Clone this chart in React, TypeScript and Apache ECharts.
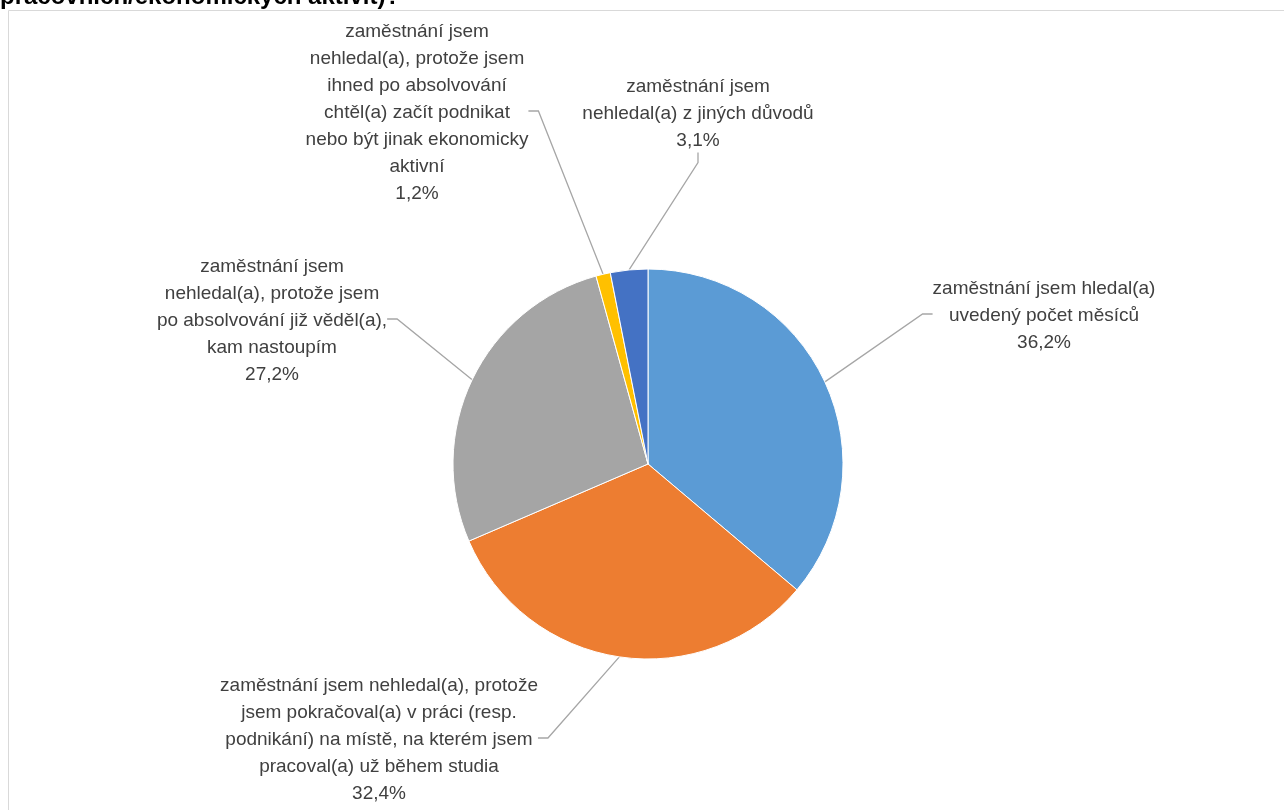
import React, { useEffect, useRef } from 'react';
import * as echarts from 'echarts';

const TITLE = 'pracovních/ekonomických aktivit)?';

const CATEGORIES = [
  'zaměstnání jsem hledal(a)\nuvedený počet měsíců',
  'zaměstnání jsem nehledal(a), protože\njsem pokračoval(a) v práci (resp.\npodnikání) na místě, na kterém jsem\npracoval(a) už během studia',
  'zaměstnání jsem\nnehledal(a), protože jsem\npo absolvování již věděl(a),\nkam nastoupím',
  'zaměstnání jsem\nnehledal(a), protože jsem\nihned po absolvování\nchtěl(a) začít podnikat\nnebo být jinak ekonomicky\naktivní',
  'zaměstnání jsem\nnehledal(a) z jiných důvodů',
];

const VALUES = [36.2, 32.4, 27.2, 1.2, 3.1];

const COLORS = ['#5B9BD5', '#ED7D31', '#A5A5A5', '#FFC000', '#4472C4'];

// label block centres (layout config)
const LABEL_CENTERS = [
  [1044, 314],
  [379, 738],
  [272, 319],
  [417, 111],
  [698, 112],
];

const FONT = '"Liberation Sans", Arial, Helvetica, sans-serif';

export default function App() {
  const ref = useRef<HTMLDivElement>(null);
  useEffect(() => {
    const chart = echarts.init(ref.current as HTMLDivElement, null, { renderer: 'svg' });
    chart.setOption({
      animation: false,
      graphic: [
        {
          type: 'rect',
          silent: true,
          shape: { x: 8.5, y: 10.5, width: 1300, height: 820 },
          style: { fill: 'none', stroke: '#d9d9d9', lineWidth: 1 },
        },
        {
          type: 'text',
          x: 0,
          y: -17,
          silent: true,
          style: {
            text: TITLE,
            font: 'bold 24px ' + FONT,
            fill: '#000000',
            verticalAlign: 'top',
          },
        },
      ],
      series: [
        {
          type: 'pie',
          center: [648, 464],
          radius: 195,
          startAngle: 90,
          clockwise: true,
          avoidLabelOverlap: false,
          emphasis: { disabled: true },
          itemStyle: { borderColor: '#ffffff', borderWidth: 1 },
          label: {
            show: true,
            position: 'outside',
            color: '#404040',
            fontSize: 19,
            lineHeight: 27,
            fontFamily: FONT,
            overflow: 'none',
            formatter: (p: any) =>
              p.name + '\n' + Number(p.value).toFixed(1).replace('.', ',') + '%',
          },
          labelLine: {
            show: true,
            length: 10,
            length2: 10,
            lineStyle: { color: '#a6a6a6', width: 1.3 },
          },
          labelLayout: (p: any) => ({
            x: LABEL_CENTERS[p.dataIndex][0],
            y: LABEL_CENTERS[p.dataIndex][1],
            align: 'center',
            verticalAlign: 'middle',
          }),
          data: CATEGORIES.map((name, i) => ({
            name,
            value: VALUES[i],
            itemStyle: { color: COLORS[i] },
          })),
        },
      ],
    });
    return () => chart.dispose();
  }, []);
  return (
    <div
      ref={ref}
      style={{ position: 'fixed', left: 0, top: 0, width: 1284, height: 810 }}
    />
  );
}
